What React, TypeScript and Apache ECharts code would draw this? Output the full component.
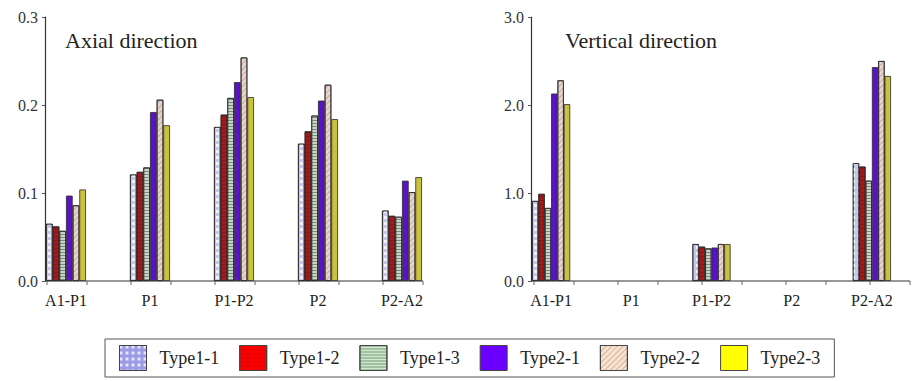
import React, { useEffect, useRef } from "react";
import * as echarts from "echarts";

const categories = ["A1-P1", "P1", "P1-P2", "P2", "P2-A2"];
const seriesNames = ["Type1-1", "Type1-2", "Type1-3", "Type2-1", "Type2-2", "Type2-3"];

// Axial direction
const axialType11 = [0.065, 0.121, 0.175, 0.156, 0.080];
const axialType12 = [0.062, 0.124, 0.189, 0.170, 0.074];
const axialType13 = [0.057, 0.129, 0.208, 0.188, 0.073];
const axialType21 = [0.097, 0.192, 0.226, 0.205, 0.114];
const axialType22 = [0.086, 0.206, 0.254, 0.223, 0.101];
const axialType23 = [0.104, 0.177, 0.209, 0.184, 0.118];

// Vertical direction (no bars at P1 and P2)
const vertType11 = [0.91, null, 0.42, null, 1.34];
const vertType12 = [0.99, null, 0.39, null, 1.30];
const vertType13 = [0.83, null, 0.37, null, 1.14];
const vertType21 = [2.13, null, 0.38, null, 2.43];
const vertType22 = [2.28, null, 0.42, null, 2.50];
const vertType23 = [2.01, null, 0.42, null, 2.33];

const axialTicks = [0, 0.1, 0.2, 0.3];
const vertTicks = [0, 1, 2, 3];

const axialData = [axialType11, axialType12, axialType13, axialType21, axialType22, axialType23];
const vertData = [vertType11, vertType12, vertType13, vertType21, vertType22, vertType23];

const barColors = ["#c6c6e8", "#a41a1a", "#cfd2cc", "#5a12c8", "#e6d6ce", "#cac23e"];
const legendColors = ["#9a9ae6", "#ff0000", "#cfe8cf", "#6a00ff", "#f8e2d0", "#ffff00"];
const decals: any[] = [
  { symbol: "rect", symbolSize: 1, color: "rgba(255,255,255,0.75)", dashArrayX: [3, 3], dashArrayY: [3, 3] },
  { symbol: "rect", symbolSize: 1, color: "rgba(0,0,0,0.15)", dashArrayX: [1, 0], dashArrayY: [1, 3] },
  { symbol: "rect", symbolSize: 1, color: "rgba(40,90,40,0.55)", dashArrayX: [1, 0], dashArrayY: [1, 2] },
  null,
  { symbol: "rect", symbolSize: 1, color: "rgba(150,90,60,0.35)", dashArrayX: [1, 0], dashArrayY: [1, 3], rotation: -Math.PI / 4 },
  null,
];

const FONT = "Liberation Serif";

// layout constants
const BAND = 84;
const GROUP_OFF = 22;
const GROUP_W = 40;
const TOP = 17;
const HEIGHT = 264;
const grids = [
  { left: 24, yOffset: -21 },
  { left: 511, yOffset: -20 },
];

export default function App() {
  const ref = useRef<HTMLDivElement>(null);
  useEffect(() => {
    if (!ref.current) return;
    const chart = echarts.init(ref.current, null, { renderer: "svg" });
    const baseY = TOP + HEIGHT;

    const graphics: any[] = [];
    grids.forEach((g) => {
      const axisX = g.left - g.yOffset;
      const endX = g.left + (categories.length - 1) * BAND + GROUP_OFF + GROUP_W + 1;
      graphics.push({
        type: "line",
        shape: { x1: axisX, y1: baseY, x2: endX, y2: baseY },
        style: { stroke: "#333", lineWidth: 1.2 },
        silent: true,
      });
      categories.forEach((_, i) => {
        [GROUP_OFF + 1, GROUP_OFF + GROUP_W + 1].forEach((o) => {
          const x = g.left + i * BAND + o;
          graphics.push({
            type: "line",
            shape: { x1: x, y1: baseY, x2: x, y2: baseY + 4 },
            style: { stroke: "#666", lineWidth: 1 },
            silent: true,
          });
        });
      });
    });

    const mkSeries = (data: any[][], idx: number) =>
      data.map((vals, s) => ({
        name: seriesNames[s],
        type: "bar",
        xAxisIndex: idx,
        yAxisIndex: idx,
        barGap: "0%",
        barCategoryGap: ((BAND - GROUP_W) / BAND) * 100 + "%",
        data: vals.map((v) => (v === null ? "-" : v)),
        itemStyle: {
          color: barColors[s],
          borderColor: "#2a2a2a",
          borderWidth: 0.8,
          decal: decals[s] || undefined,
        },
      }));

    const titleStyle = { fontFamily: FONT, fontSize: 22, fontWeight: "normal", color: "#222" };

    chart.setOption({
      animation: false,
      aria: { enabled: false, decal: { show: true } },
      title: [
        { text: "Axial direction", left: 60, top: 24, textStyle: titleStyle },
        { text: "Vertical direction", left: 560, top: 24, textStyle: titleStyle },
      ],
      grid: grids.map((g) => ({
        left: g.left,
        top: TOP,
        width: BAND * categories.length,
        height: HEIGHT,
        containLabel: false,
      })),
      xAxis: grids.map((_, i) => ({
        type: "category",
        gridIndex: i,
        data: categories,
        axisLine: { show: false },
        axisTick: { show: false },
        axisLabel: { fontFamily: FONT, fontSize: 16, color: "#222", margin: 11 },
        splitLine: { show: false },
      })),
      yAxis: grids.map((g, i) => {
        const ticks = i === 0 ? axialTicks : vertTicks;
        return {
          type: "value",
          gridIndex: i,
          offset: g.yOffset,
          min: ticks[0],
          max: ticks[ticks.length - 1],
          interval: ticks[1] - ticks[0],
          axisLine: { show: true, lineStyle: { color: "#333", width: 1.2 } },
          axisTick: { show: true, length: 3, lineStyle: { color: "#555" } },
          axisLabel: {
            fontFamily: FONT,
            fontSize: 16,
            color: "#333",
            margin: 7,
            formatter: (v: number) => v.toFixed(1),
          },
          splitLine: { show: false },
        };
      }),
      legend: {
        left: 105,
        top: 339,
        orient: "horizontal",
        padding: [6, 14],
        itemWidth: 27,
        itemHeight: 25,
        itemGap: 20,
        borderColor: "#555",
        borderWidth: 1,
        icon: "rect",
        textStyle: { fontFamily: FONT, fontSize: 18, color: "#222", padding: [0, 0, 0, 8] },
        data: seriesNames.map((n, s) => ({
          name: n,
          itemStyle: { color: legendColors[s], borderColor: "#444", borderWidth: 1 },
        })),
      },
      graphic: graphics,
      series: [...mkSeries(axialData, 0), ...mkSeries(vertData, 1)],
    });
    return () => chart.dispose();
  }, []);
  return (
    <div
      ref={ref}
      style={{ position: "fixed", left: 0, top: 0, width: 912, height: 381, background: "#fff" }}
    />
  );
}
